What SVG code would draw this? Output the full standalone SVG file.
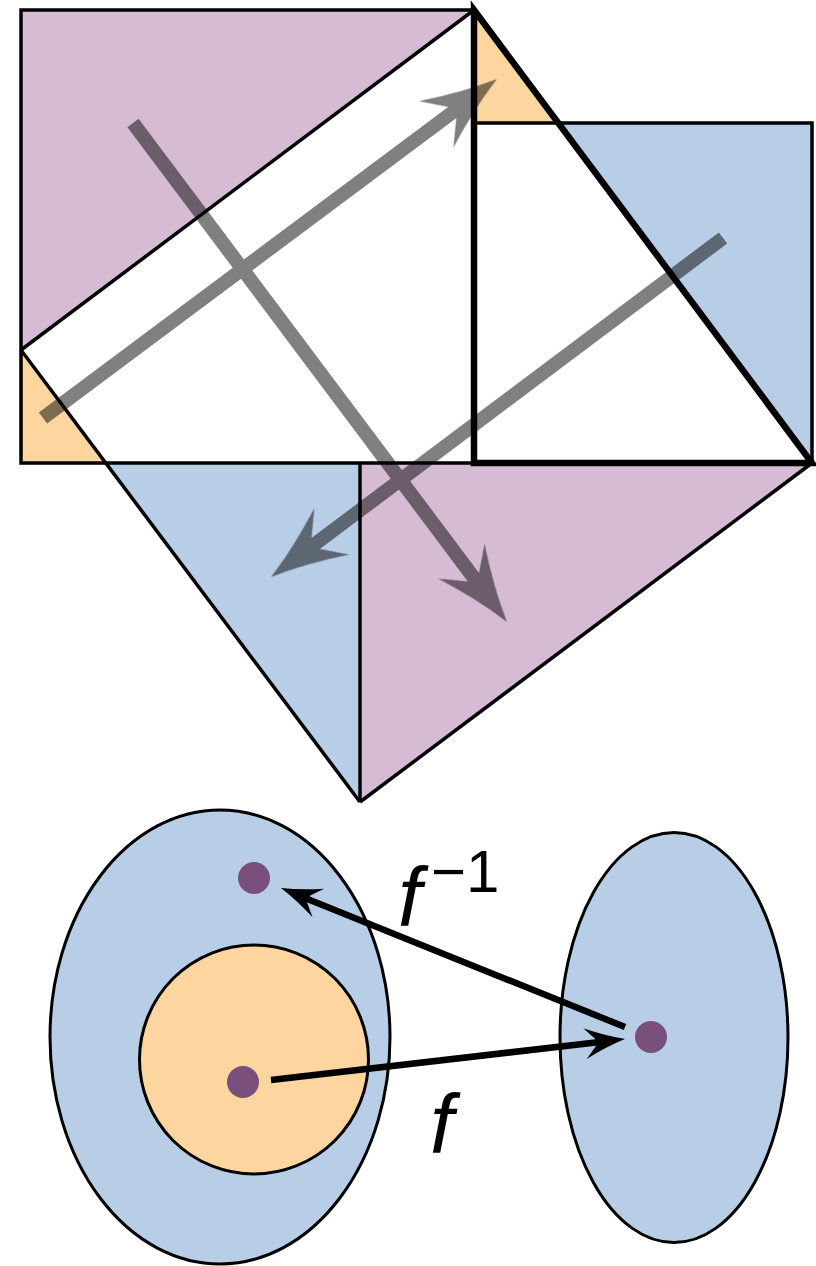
<svg xmlns="http://www.w3.org/2000/svg" width="816" height="1266" viewBox="0 0 816 1266">
<style>
.purple{fill:#d5bcd4}
.blue{fill:#b8cee6}
.orange{fill:#fcd69e}
.thin{fill:none;stroke:#000;stroke-width:3.5;stroke-linejoin:miter}
.thick{fill:none;stroke:#000;stroke-width:6.5;stroke-linejoin:miter}
.set{stroke:#000;stroke-width:3}
.dot{fill:#7a4f7c}
.shaft{stroke:#000;stroke-width:14;stroke-linecap:butt;fill:none}
.bshaft{stroke:#000;stroke-width:6.5;stroke-linecap:butt;fill:none}
</style>
<defs>
<path id="head" d="M0,0 Q-36,-10 -76,-29 L-56,-7 L-56,7 L-76,29 Q-36,10 0,0 Z"/>
</defs>
<rect x="0" y="0" width="816" height="1266" fill="#fff"/>
<g id="dissection">
<g id="fills">
<polygon class="purple" points="21,10 474,10 21,350"/>
<polygon class="orange" points="21,350 105.75,463 21,463"/>
<polygon class="orange" points="474,10 558.3,123 474,123"/>
<polygon class="blue" points="558.3,123 812,123 812,463"/>
<polygon class="blue" points="105.75,463 360,463 360,802"/>
<polygon class="purple" points="360,463 812,463 360,802"/>
</g>
<g id="outlines">
<rect class="thin" x="21" y="10" width="453" height="453"/>
<line class="thin" x1="21" y1="350" x2="474" y2="10"/>
<line class="thin" x1="21" y1="350" x2="360" y2="802"/>
<line class="thin" x1="360" y1="463" x2="360" y2="802"/>
<line class="thin" x1="812" y1="463" x2="360" y2="802"/>
<polyline class="thin" points="474,123 812,123 812,463"/>
<polygon class="thick" points="474,10 812,463 474,463"/>
</g>
</g>
<g id="connectors-top" opacity="0.5">
<line class="shaft" x1="43" y1="418" x2="453" y2="112"/>
<use href="#head" transform="translate(497,79) rotate(-36.7)"/>
<line class="shaft" x1="133" y1="123" x2="474" y2="578"/>
<use href="#head" transform="translate(507,622) rotate(53.1)"/>
<line class="shaft" x1="723" y1="238" x2="315" y2="544"/>
<use href="#head" transform="translate(271,577) rotate(143.1)"/>
</g>
<g id="domain">
<ellipse class="set" cx="220" cy="1037" rx="170" ry="227" fill="#b8cee6"/>
</g>
<g id="subset">
<circle class="set" cx="254" cy="1059.5" r="114.5" fill="#fcd69e"/>
</g>
<g id="codomain">
<ellipse class="set" cx="674" cy="1037.5" rx="114" ry="205" fill="#b8cee6"/>
</g>
<g id="point-a"><circle class="dot" cx="254" cy="878" r="16"/></g>
<g id="point-b"><circle class="dot" cx="243" cy="1082" r="16"/></g>
<g id="point-c"><circle class="dot" cx="651" cy="1037" r="16"/></g>
<g id="connectors-bottom">
<line class="bshaft" x1="271" y1="1080" x2="600" y2="1042"/>
<use href="#head" transform="translate(625,1039) rotate(-6.6) scale(0.53)"/>
<line class="bshaft" x1="625" y1="1027" x2="305" y2="898"/>
<use href="#head" transform="translate(281,888) rotate(-158) scale(0.53)"/>
</g>
<g id="labels" font-family="'Liberation Sans', Arial, sans-serif" fill="#000">
<text x="398" y="926" font-size="84" font-style="italic">f</text>
<text x="431" y="892" font-size="60">−1</text>
<text x="430" y="1153" font-size="84" font-style="italic">f</text>
</g>
</svg>
